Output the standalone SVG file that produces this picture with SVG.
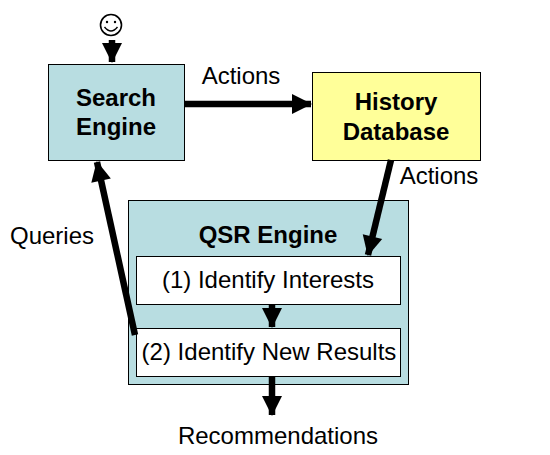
<svg xmlns="http://www.w3.org/2000/svg" width="550" height="455" viewBox="0 0 550 455">
<style>
.box{stroke:#000;stroke-width:1}
.blue{fill:#b8dde1}
.yellow{fill:#ffff99}
.white{fill:#fff}
text{font-family:"Liberation Sans",Arial,sans-serif;fill:#000;text-anchor:middle}
.b{font-weight:bold;font-size:24px}
.r{font-size:24px}
.conn{stroke:#000;stroke-width:6.500;fill:none;marker-end:url(#h)}
</style>
<defs>
<marker id="h" markerUnits="userSpaceOnUse" markerWidth="22" markerHeight="22" refX="20" refY="11" orient="auto" viewBox="0 0 22 22">
<path d="M1 1L21 11L1 21Z" fill="#000"/>
</marker>
</defs>
<rect width="550" height="455" fill="#fff"/>
<g id="search-engine">
<rect class="box blue" x="48.5" y="64.500" width="136" height="96"/>
<text class="b" x="116" y="106">Search</text>
<text class="b" x="116" y="135">Engine</text>
</g>
<g id="history-database">
<rect class="box yellow" x="312.5" y="72.500" width="168" height="88"/>
<text class="b" x="396" y="110">History</text>
<text class="b" x="396" y="140">Database</text>
</g>
<g id="qsr-engine">
<rect class="box blue" x="128.5" y="200.500" width="280" height="184"/>
<text class="b" x="268" y="243">QSR Engine</text>
</g>
<g id="identify-interests">
<rect class="box white" x="136.5" y="256.500" width="264" height="48"/>
<text class="r" x="268" y="288">(1) Identify Interests</text>
</g>
<g id="identify-results">
<rect class="box white" x="136.5" y="328.500" width="264" height="48"/>
<text class="r" x="269" y="360">(2) Identify New Results</text>
</g>
<g id="user">
<circle cx="111" cy="25" r="10.500" fill="none" stroke="#000" stroke-width="1.600"/>
<circle cx="107" cy="22" r="1.200" fill="#000"/>
<circle cx="115" cy="22" r="1.200" fill="#000"/>
<path d="M104.500 27Q111 35 117.500 27" fill="none" stroke="#000" stroke-width="1.400"/>
</g>
<g id="connectors">
<line class="conn" x1="112" y1="40" x2="112" y2="62"/>
<line class="conn" x1="185" y1="104" x2="311" y2="104"/>
<line class="conn" x1="391" y1="160" x2="368" y2="255"/>
<line class="conn" x1="272" y1="304" x2="272" y2="327"/>
<line class="conn" x1="135" y1="335" x2="97" y2="162"/>
<line class="conn" x1="272" y1="376" x2="272" y2="415"/>
</g>
<g id="labels">
<text class="r" x="241" y="84">Actions</text>
<text class="r" x="439" y="184">Actions</text>
<text class="r" x="52" y="244">Queries</text>
<text class="r" x="278" y="444">Recommendations</text>
</g>
</svg>
